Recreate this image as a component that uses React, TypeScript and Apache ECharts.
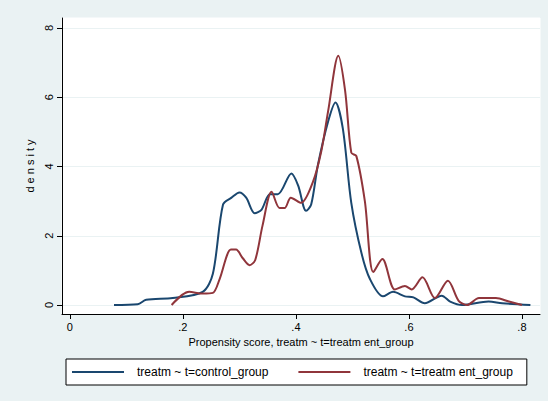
import { useRef, useEffect } from 'react';
import * as echarts from 'echarts';

const controlGroup: [number, number][] = [
  [0.078, 0], [0.12, 0.02], [0.135, 0.15], [0.182, 0.2], [0.235, 0.38], [0.253, 0.9],
  [0.271, 2.9], [0.286, 3.1], [0.3, 3.25], [0.312, 3.1], [0.327, 2.65], [0.339, 2.75],
  [0.354, 3.2], [0.368, 3.2], [0.392, 3.8], [0.404, 3.45], [0.418, 2.72], [0.427, 2.9],
  [0.439, 4.05], [0.457, 5.3], [0.47, 5.85], [0.483, 5.1], [0.498, 2.95], [0.516, 1.5],
  [0.531, 0.75], [0.554, 0.25], [0.572, 0.38], [0.593, 0.25], [0.608, 0.22], [0.628, 0.05],
  [0.658, 0.27], [0.673, 0.1], [0.694, 0], [0.741, 0.1], [0.765, 0.05], [0.815, 0],
];

const treatmentGroup: [number, number][] = [
  [0.18, 0], [0.211, 0.38], [0.235, 0.33], [0.253, 0.35], [0.265, 0.75], [0.285, 1.6],
  [0.294, 1.6], [0.306, 1.35], [0.318, 1.15], [0.328, 1.3], [0.341, 2.3], [0.357, 3.27],
  [0.371, 2.8], [0.38, 2.8], [0.391, 3.1], [0.409, 2.95], [0.43, 3.55], [0.445, 4.45],
  [0.457, 5.6], [0.475, 7.2], [0.487, 6.2], [0.498, 4.4], [0.507, 4.3], [0.522, 3.0],
  [0.537, 0.95], [0.553, 1.33], [0.575, 0.45], [0.593, 0.55], [0.605, 0.45], [0.624, 0.8],
  [0.646, 0.2], [0.669, 0.7], [0.688, 0.12], [0.703, 0], [0.724, 0.2], [0.754, 0.2],
  [0.777, 0.1], [0.8, 0],
];

const xTicks = [0, 0.2, 0.4, 0.6, 0.8];
const yTicks = [0, 2, 4, 6, 8];

const font = 'Liberation Sans, Arial, sans-serif';

export default function App() {
  const ref = useRef<HTMLDivElement>(null);

  useEffect(() => {
    if (!ref.current) return;
    const chart = echarts.init(ref.current, undefined, { renderer: 'svg' });
    chart.setOption({
      animation: false,
      backgroundColor: '#eaf2f3',
      textStyle: { fontFamily: font },
      grid: { left: 62, right: 8, top: 18, bottom: 87, show: true, backgroundColor: '#fff', borderColor: '#fff' },
      xAxis: {
        type: 'value',
        min: -0.014,
        max: 0.832,
        name: 'Propensity score, treatm ~ t=treatm ent_group',
        nameLocation: 'middle',
        nameGap: 22,
        nameTextStyle: { color: '#000', fontSize: 11, fontFamily: font },
        axisLine: { onZero: false, lineStyle: { color: '#000' } },
        axisTick: { customValues: xTicks, length: 5, lineStyle: { color: '#000' } },
        axisLabel: {
          customValues: xTicks,
          color: '#000',
          fontSize: 11,
          margin: 7,
          formatter: (v: number) => (v === 0 ? '0' : v.toFixed(1).replace(/^0/, '')),
        },
        splitLine: { show: false },
      },
      yAxis: {
        type: 'value',
        min: -0.26,
        max: 8.29,
        name: 'd e n s i t y',
        nameLocation: 'middle',
        nameGap: 27,
        nameTextStyle: { color: '#000', fontSize: 11, fontFamily: font },
        axisLine: { onZero: false, lineStyle: { color: '#000' } },
        axisTick: { customValues: yTicks, length: 5, lineStyle: { color: '#000' } },
        axisLabel: { customValues: yTicks, color: '#000', fontSize: 11, rotate: 90, margin: 8 },
        splitLine: { show: true, customValues: yTicks, lineStyle: { color: '#eaf2f3', width: 1 } },
      },
      legend: {
        left: 66,
        top: 359,
        orient: 'horizontal',
        itemGap: 30,
        itemWidth: 52,
        itemHeight: 2,
        padding: [7, 14, 7, 6],
        backgroundColor: '#fff',
        borderColor: '#000',
        borderWidth: 1,
        borderRadius: 0,
        icon: 'rect',
        textStyle: { color: '#000', fontSize: 12, fontFamily: font, padding: [0, 0, 0, 8] },
        data: ['treatm ~ t=control_group', 'treatm ~ t=treatm ent_group'],
      },
      series: [
        {
          name: 'treatm ~ t=control_group',
          type: 'line',
          data: controlGroup,
          smooth: 0.3,
          showSymbol: false,
          itemStyle: { color: '#1a476f' },
          lineStyle: { color: '#1a476f', width: 2 },
        },
        {
          name: 'treatm ~ t=treatm ent_group',
          type: 'line',
          data: treatmentGroup,
          smooth: 0.3,
          showSymbol: false,
          itemStyle: { color: '#90353b' },
          lineStyle: { color: '#90353b', width: 2 },
        },
      ],
    });
    return () => chart.dispose();
  }, []);

  return <div ref={ref} style={{ position: 'fixed', left: 0, top: 0, width: 548, height: 401 }} />;
}
